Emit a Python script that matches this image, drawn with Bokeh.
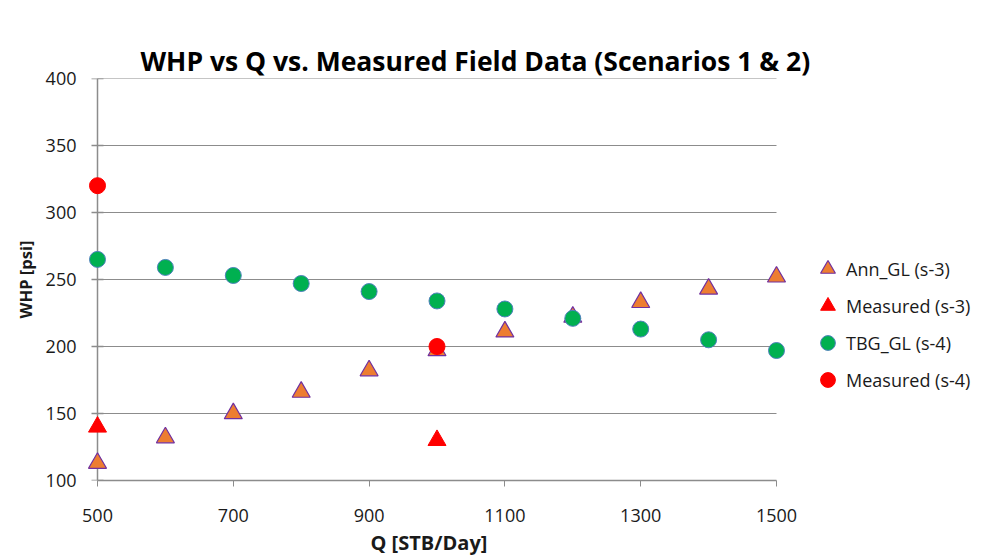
from bokeh.plotting import figure
from bokeh.models import FixedTicker, Legend, LegendItem, Range1d, Title
from bokeh.embed import file_html
from bokeh.resources import INLINE

q = [500, 600, 700, 800, 900, 1000, 1100, 1200, 1300, 1400, 1500]
ann_gl = [113, 132, 150, 166, 182, 197, 211, 222, 233, 243, 252]
tbg_gl = [265, 259, 253, 247, 241, 234, 228, 221, 213, 205, 197]
meas3_q = [500, 1000]
meas3 = [140, 130]
meas4_q = [500, 1000]
meas4 = [320, 200]
x_ticks = [500, 700, 900, 1100, 1300, 1500]
y_ticks = [100, 150, 200, 250, 300, 350, 400]

FONT = "Open Sans"
GRAY = "#8c8c8c"
XMIN, XMAX = 500, 1500
YMIN, YMAX = 100, 400
PX_PER_UNIT = 679 / 1000
X_START = XMIN - 14 / PX_PER_UNIT   # room on the left for the edge markers
X_END = XMIN + 891 / PX_PER_UNIT    # frame runs to the right edge, for the legend

p = figure(width=988, height=559, output_backend="svg", toolbar_location=None,
           x_range=Range1d(X_START, X_END), y_range=Range1d(YMIN, YMAX),
           min_border_left=83, min_border_right=0, min_border_top=78, min_border_bottom=79)
p.outline_line_color = None
p.background_fill_color = "white"
p.border_fill_color = "white"

# the built-in title panel sits next to the plot area: use it as an empty spacer
p.title.text = ""
p.title.text_font_size = "1px"
p.title.standoff = 31

main_title = Title(text="WHP vs Q vs. Measured Field Data (Scenarios 1 & 2)",
                   text_font=FONT, text_font_size="26.5px", text_font_style="bold",
                   text_color="#000000", align="left", offset=57, standoff=0)
p.add_layout(main_title, "above")

for ax in (p.xaxis[0], p.yaxis[0]):
    ax.axis_line_color = GRAY
    ax.axis_line_width = 1.5
    ax.major_tick_line_color = GRAY
    ax.major_tick_in = 0
    ax.major_tick_out = 6
    ax.minor_tick_line_color = None
    ax.major_label_text_font = FONT
    ax.major_label_text_font_size = "18px"
    ax.major_label_text_color = "#1a1a1a"
    ax.axis_label_text_font = FONT
    ax.axis_label_text_font_style = "bold"
    ax.axis_label_text_color = "#1a1a1a"

p.xaxis[0].ticker = FixedTicker(ticks=x_ticks)
p.xaxis[0].bounds = (XMIN, XMAX)
p.xaxis[0].major_label_standoff = 22

# y axis: labels at the frame's left edge; its line and ticks drawn at Q = 500
yax = p.yaxis[0]
yax.ticker = FixedTicker(ticks=y_ticks)
yax.axis_line_color = None
yax.major_tick_line_color = None
yax.major_tick_out = 0
yax.major_label_standoff = 7
yax.axis_label = "WHP [psi]"
yax.axis_label_text_font_size = "16.5px"
yax.axis_label_standoff = 6

xlabel = Title(text="Q [STB/Day]", align="left", offset=287, text_font=FONT,
               text_font_size="20px", text_font_style="bold", text_color="#1a1a1a",
               standoff=4)
p.add_layout(xlabel, "below")

p.xgrid.grid_line_color = None
p.ygrid.grid_line_color = None
grid_y = y_ticks[1:]
p.segment(x0=[XMIN] * len(grid_y), x1=[XMAX] * len(grid_y), y0=grid_y, y1=grid_y,
          line_color=GRAY, line_width=1, level="underlay")
p.segment(x0=[XMIN], x1=[XMIN], y0=[YMIN], y1=[YMAX],
          line_color=GRAY, line_width=1.5, level="underlay")
p.scatter([XMIN] * len(y_ticks), y_ticks, marker="dash", size=12,
          line_color=GRAY, line_width=1.5, level="underlay")

r1 = p.scatter(q, ann_gl, marker="triangle", size=18, fill_color="#ed7d31",
               line_color="#7030a0", line_width=1.2)
r2 = p.scatter(meas3_q, meas3, marker="triangle", size=18, fill_color="#ff0000",
               line_color="#ff0000", line_width=1)
r3 = p.scatter(q, tbg_gl, marker="circle", size=16, fill_color="#00b050",
               line_color="#4f81bd", line_width=1)
r4 = p.scatter(meas4_q, meas4, marker="circle", size=16, fill_color="#ff0000",
               line_color="#ff0000", line_width=1)

legend = Legend(items=[
    LegendItem(label="Ann_GL (s-3)", renderers=[r1]),
    LegendItem(label="Measured (s-3)", renderers=[r2]),
    LegendItem(label="TBG_GL (s-4)", renderers=[r3]),
    LegendItem(label="Measured (s-4)", renderers=[r4]),
], location=(726, 82))
legend.label_text_font = FONT
legend.label_text_font_size = "18px"
legend.label_text_color = "#1a1a1a"
legend.border_line_color = None
legend.background_fill_alpha = 0
legend.glyph_width = 37
legend.glyph_height = 37
legend.label_height = 37
legend.label_standoff = 0
legend.spacing = 0
legend.padding = 0
legend.margin = 0
p.add_layout(legend, "center")

open("out.html", "w").write(file_html(p, INLINE))
